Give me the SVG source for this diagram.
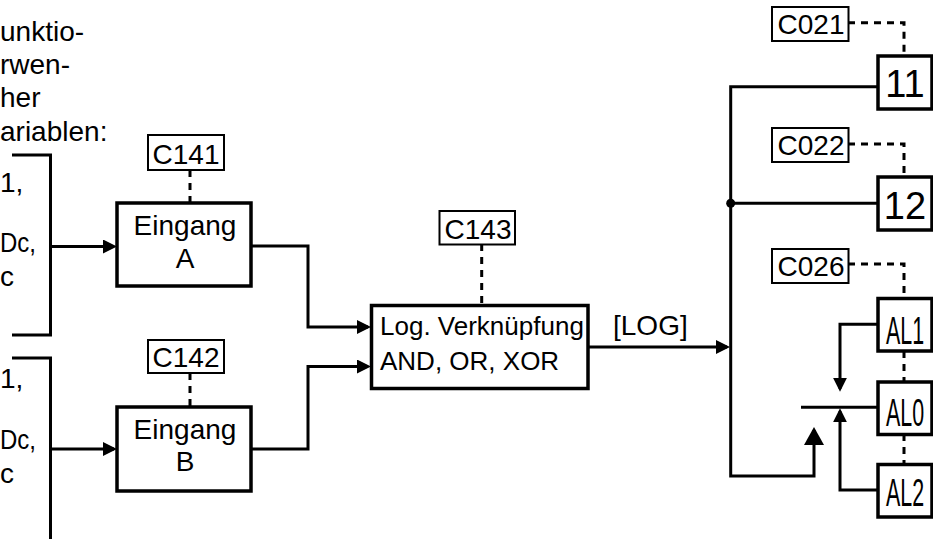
<svg xmlns="http://www.w3.org/2000/svg" width="933" height="539" viewBox="0 0 933 539">
<style>
text{font-family:"Liberation Sans",Arial,sans-serif;fill:#000}
.t28{font-size:28px}
.t26{font-size:26px}
.big{font-size:38px}
.al{font-size:39px}
.box{fill:#fff;stroke:#000;stroke-width:3.5}
.lbl{fill:#fff;stroke:#000;stroke-width:2}
.ln{fill:none;stroke:#000;stroke-width:3}
.dash{fill:none;stroke:#000;stroke-width:3;stroke-dasharray:7 6}
</style>
<defs>
<marker id="ah" markerUnits="userSpaceOnUse" markerWidth="14" markerHeight="14" refX="11" refY="7" orient="auto"><path d="M0,0 L14,7 L0,14 z" fill="#000"/></marker>
<marker id="ahb" markerUnits="userSpaceOnUse" markerWidth="18" markerHeight="20" refX="15" refY="10" orient="auto"><path d="M0,0 L18,10 L0,20 z" fill="#000"/></marker>
</defs>
<rect width="933" height="539" fill="#fff"/>
<g id="intro-text" class="t28">
<text x="0" y="41">unktio-</text>
<text x="0" y="74">rwen-</text>
<text x="0" y="107">her</text>
<text x="0" y="141">ariablen:</text>
</g>
<g id="source-A" class="t28">
<text x="0" y="192">1,</text>
<text x="0" y="252" textLength="36" lengthAdjust="spacingAndGlyphs">Dc,</text>
<text x="0" y="286">c</text>
</g>
<g id="source-B" class="t28">
<text x="0" y="388">1,</text>
<text x="0" y="449" textLength="36" lengthAdjust="spacingAndGlyphs">Dc,</text>
<text x="0" y="483">c</text>
</g>
<g id="connectors">
<path class="ln" d="M12,155 H50.5 V335 H12"/>
<path class="ln" d="M12,358 H50.5 V539"/>
<path class="ln" d="M50.5,246.5 H114" marker-end="url(#ah)"/>
<path class="ln" d="M50.5,449 H114" marker-end="url(#ah)"/>
<path class="ln" d="M251,246 H308 V327 H368" marker-end="url(#ah)"/>
<path class="ln" d="M251,449 H308 V366.5 H368" marker-end="url(#ah)"/>
<path class="ln" d="M588,347 H727" marker-end="url(#ah)"/>
<path class="ln" d="M877.7,86.7 H730.7 V476 H814 V430" marker-end="url(#ahb)"/>
<path class="ln" d="M730.7,203.3 H877.7"/>
<circle cx="730.7" cy="203.3" r="4.5" fill="#000"/>
<path class="ln" d="M877.7,324.3 H840 V388.7" marker-end="url(#ah)"/>
<path class="ln" d="M801,407.3 H877.7"/>
<path class="ln" d="M877.7,490 H840 V411.3" marker-end="url(#ah)"/>
<path class="dash" d="M190,170 V203"/>
<path class="dash" d="M190,373 V407"/>
<path class="dash" d="M481.7,244 V305"/>
<path class="dash" d="M848,22.7 H904 V56"/>
<path class="dash" d="M848,144 H904 V177"/>
<path class="dash" d="M848,264 H904 V298"/>
<path class="dash" d="M904,351 V382"/>
<path class="dash" d="M904,434 V464"/>
<text class="t28" x="613" y="335">[LOG]</text>
</g>
<g id="C141"><rect class="lbl" x="148" y="135" width="76" height="35"/><text class="t28" x="186" y="163.5" text-anchor="middle">C141</text></g>
<g id="C142"><rect class="lbl" x="148" y="340" width="76" height="33"/><text class="t28" x="186" y="367" text-anchor="middle">C142</text></g>
<g id="C143"><rect class="lbl" x="439.5" y="211" width="75.5" height="33.5"/><text class="t28" x="478" y="238.5" text-anchor="middle">C143</text></g>
<g id="C021"><rect class="lbl" x="772" y="7" width="76.5" height="34"/><text class="t28" x="811" y="33.5" text-anchor="middle">C021</text></g>
<g id="C022"><rect class="lbl" x="772" y="128" width="76.5" height="34"/><text class="t28" x="811" y="154.5" text-anchor="middle">C022</text></g>
<g id="C026"><rect class="lbl" x="772" y="249" width="76.5" height="34"/><text class="t28" x="811" y="275.5" text-anchor="middle">C026</text></g>
<g id="eingang-A"><rect class="box" x="117" y="203" width="134" height="83"/><text class="t28" x="185" y="234.5" text-anchor="middle">Eingang</text><text class="t28" x="185" y="268" text-anchor="middle">A</text></g>
<g id="eingang-B"><rect class="box" x="117" y="407" width="134" height="84"/><text class="t28" x="185" y="438.5" text-anchor="middle">Eingang</text><text class="t28" x="185" y="471" text-anchor="middle">B</text></g>
<g id="logic"><rect class="box" x="371.5" y="305.5" width="216.5" height="83"/><text class="t26" x="380" y="335">Log. Verknüpfung</text><text class="t26" x="380" y="370">AND, OR, XOR</text></g>
<g id="out-11"><rect class="box" x="878" y="56" width="54" height="53"/><text class="big" x="905" y="97" text-anchor="middle">11</text></g>
<g id="out-12"><rect class="box" x="878" y="177" width="54" height="53"/><text class="big" x="905" y="218.5" text-anchor="middle">12</text></g>
<g id="AL1"><rect class="box" x="878" y="298.5" width="54" height="52.5"/><text class="al" transform="translate(905,343.5) scale(0.55,1)" text-anchor="middle">AL1</text></g>
<g id="AL0"><rect class="box" x="878" y="382" width="54" height="52.5"/><text class="al" transform="translate(905,425.5) scale(0.55,1)" text-anchor="middle">AL0</text></g>
<g id="AL2"><rect class="box" x="878" y="464.5" width="54" height="52.5"/><text class="al" transform="translate(905,505.5) scale(0.55,1)" text-anchor="middle">AL2</text></g>
</svg>
